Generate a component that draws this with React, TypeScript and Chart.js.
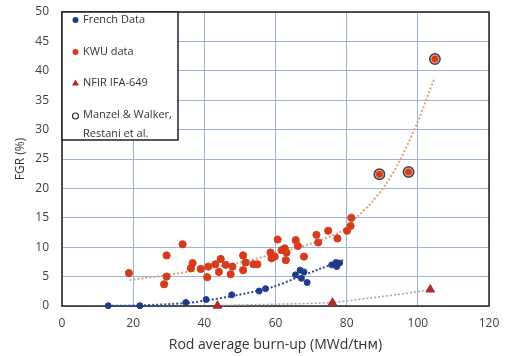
import React, { useEffect, useRef } from "react";
import { Chart, registerables } from "chart.js";

Chart.register(...registerables);

// ---- axis ticks ----
const xTickValues = [0, 20, 40, 60, 80, 100, 120];
const yTickValues = [0, 5, 10, 15, 20, 25, 30, 35, 40, 45, 50];

// ---- French data ----
const frenchX = [13, 21.9, 34.8, 40.5, 47.7, 55.4, 57.2, 65.6, 66.9, 68.0, 67.3, 68.9, 75.8, 77.0, 78.0, 77.2];
const frenchY = [0.05, 0.05, 0.6, 1.1, 1.9, 2.55, 2.95, 5.3, 6.1, 5.8, 4.7, 4.0, 7.0, 7.4, 7.3, 6.7];

// ---- KWU data ----
const kwuX = [18.8, 29.4, 33.9, 29.4, 28.7, 36.7, 36.2, 39.0, 41.1, 40.8, 43.1, 44.6, 44.1, 46.0, 47.4, 47.9, 50.9, 50.9, 51.6, 53.8, 54.9, 58.6, 58.9, 59.8, 60.6, 61.7, 62.6, 63.1, 62.9, 65.7, 66.3, 68.0, 71.5, 72.0, 74.8, 77.4, 80.1, 81.1, 81.3];
const kwuY = [5.6, 8.6, 10.5, 5.0, 3.7, 7.3, 6.4, 6.3, 6.7, 4.9, 7.1, 8.0, 5.8, 7.0, 5.4, 6.7, 8.6, 6.1, 7.4, 7.1, 7.1, 9.1, 8.1, 8.4, 11.3, 9.5, 9.8, 9.1, 7.8, 11.2, 10.2, 8.4, 12.1, 10.8, 12.8, 11.5, 12.8, 13.6, 15.0];

// ---- NFIR IFA-649 ----
const nfirX = [43.7, 76.0, 103.5];
const nfirY = [0.05, 0.55, 2.8];

// ---- Manzel & Walker, Restani et al. ----
const manzelX = [89.2, 97.4, 104.8];
const manzelY = [22.4, 22.8, 42.0];

// ---- trend lines ----
const frenchTrendX = [13, 22, 35, 40, 48, 59, 66, 72, 79];
const frenchTrendY = [0.05, 0.1, 0.5, 0.9, 1.7, 3.2, 4.8, 6.2, 7.8];
const kwuTrendX = [19, 30, 40, 50, 60, 70, 76, 79, 83, 87, 91, 95, 100, 104.7];
const kwuTrendY = [4.4, 5.3, 6.3, 7.4, 8.9, 10.6, 12.0, 12.9, 15.2, 17.6, 20.7, 24.8, 31.4, 38.8];
const nfirTrendX = [44, 60, 76, 86, 95, 104];
const nfirTrendY = [0.1, 0.3, 0.6, 1.3, 2.0, 2.8];

const zip = (xs: number[], ys: number[]) => xs.map((x, i) => ({ x, y: ys[i] }));

const BLUE = "#1f3b8a";
const RED = "#d63c1c";
const TRI = "#b32a2a";
const FONT = "'Open Sans', 'DejaVu Sans', sans-serif";

const legendPlugin = {
  id: "boxLegend",
  afterDraw(chart: any) {
    const { ctx, chartArea } = chart;
    const l = chartArea.left;
    const t = chartArea.top;
    ctx.save();
    ctx.fillStyle = "#ffffff";
    ctx.fillRect(l, t, 116, 128);
    ctx.strokeStyle = "#222";
    ctx.lineWidth = 1.5;
    ctx.strokeRect(l, t, 116, 128);
    ctx.font = `11px ${FONT}`;
    ctx.textBaseline = "middle";
    const items = chart.data.datasets.filter((d: any) => d.legendKind);
    const rowY = [8, 40, 71, 103];
    items.forEach((d: any, i: number) => {
      const y = t + rowY[i];
      const mx = l + 13.5;
      ctx.beginPath();
      if (d.legendKind === "dot") {
        ctx.fillStyle = d.backgroundColor;
        ctx.arc(mx, y, 3, 0, Math.PI * 2);
        ctx.fill();
      } else if (d.legendKind === "tri") {
        ctx.fillStyle = d.backgroundColor;
        ctx.moveTo(mx, y - 3.5);
        ctx.lineTo(mx + 3.5, y + 2.5);
        ctx.lineTo(mx - 3.5, y + 2.5);
        ctx.closePath();
        ctx.fill();
      } else {
        ctx.strokeStyle = "#333";
        ctx.lineWidth = 1.2;
        ctx.arc(mx, y + 1, 3, 0, Math.PI * 2);
        ctx.stroke();
      }
      ctx.fillStyle = "#333";
      const lines = Array.isArray(d.label) ? d.label : [d.label];
      lines.forEach((s: string, k: number) => {
        ctx.fillText(s, l + 21, y + k * 19);
      });
    });
    ctx.restore();
  },
};

const framePlugin = {
  id: "frame",
  beforeDatasetsDraw(chart: any) {
    const { ctx, chartArea } = chart;
    ctx.save();
    ctx.strokeStyle = "#222";
    ctx.lineWidth = 1.5;
    ctx.strokeRect(chartArea.left, chartArea.top, chartArea.right - chartArea.left, chartArea.bottom - chartArea.top);
    ctx.restore();
  },
};

export default function App() {
  const ref = useRef<HTMLCanvasElement>(null);

  useEffect(() => {
    const trend = (xs: number[], ys: number[], color: string, width: number) => ({
      type: "line" as const,
      data: zip(xs, ys),
      showLine: true,
      borderColor: color,
      borderWidth: width,
      borderDash: [2, 2],
      pointRadius: 0,
      tension: 0.3,
      fill: false,
      clip: false as any,
      order: 10,
    });

    const chart = new Chart(ref.current!, {
      type: "scatter",
      data: {
        datasets: [
          trend(frenchTrendX, frenchTrendY, "#2b4c9c", 2),
          trend(kwuTrendX, kwuTrendY, "#dda27a", 2),
          trend(nfirTrendX, nfirTrendY, "#a0a0a8", 1.5),
          {
            label: "French Data",
            data: zip(frenchX, frenchY),
            backgroundColor: BLUE,
            borderColor: BLUE,
            pointRadius: 3,
            clip: false as any,
            order: 2,
            legendKind: "dot",
          } as any,
          {
            label: "KWU data",
            data: zip(kwuX, kwuY),
            backgroundColor: RED,
            borderColor: RED,
            pointRadius: 3.6,
            clip: false as any,
            order: 2,
            legendKind: "dot",
          } as any,
          {
            label: "NFIR IFA-649",
            data: zip(nfirX, nfirY),
            backgroundColor: TRI,
            borderColor: TRI,
            pointStyle: "triangle",
            pointRadius: 5,
            clip: false as any,
            order: 2,
            legendKind: "tri",
          } as any,
          {
            label: ["Manzel & Walker,", "Restani et al."],
            data: zip(manzelX, manzelY),
            backgroundColor: "#dcaaa2",
            borderColor: "#444",
            borderWidth: 1.5,
            pointRadius: 5.2,
            clip: false as any,
            order: 1,
            legendKind: "ring",
          } as any,
          {
            label: "high burn-up KWU",
            data: zip(manzelX, manzelY),
            backgroundColor: RED,
            borderColor: RED,
            pointRadius: 3,
            clip: false as any,
            order: 0,
          } as any,
        ],
      },
      options: {
        responsive: false,
        animation: false,
        devicePixelRatio: 1,
        layout: { padding: { top: 12, right: 16, left: 0, bottom: 0 } },
        plugins: {
          legend: { display: false },
          tooltip: { enabled: false },
        },
        scales: {
          x: {
            type: "linear",
            min: 0,
            max: 120,
            afterFit: (s: any) => {
              s.height = 50;
              s.paddingLeft = 0;
              s.paddingRight = 0;
            },
            afterBuildTicks: (s: any) => {
              s.ticks = xTickValues.map((v) => ({ value: v }));
            },
            grid: { color: "#9bb2d6", lineWidth: 1, drawTicks: false },
            border: { display: false },
            ticks: { padding: 10, color: "#404040", font: { family: FONT, size: 12 } },
            title: {
              display: true,
              text: "Rod average burn-up (MWd/tʜᴍ)",
              color: "#333",
              font: { family: FONT, size: 14 },
              padding: { top: 0, bottom: 3 },
            },
          },
          y: {
            type: "linear",
            min: 0,
            max: 50,
            afterFit: (s: any) => {
              s.width = 62;
              s.paddingTop = 0;
              s.paddingBottom = 0;
            },
            afterBuildTicks: (s: any) => {
              s.ticks = yTickValues.map((v) => ({ value: v }));
            },
            grid: { color: "#9bb2d6", lineWidth: 1, drawTicks: false },
            border: { display: false },
            ticks: { padding: 13, color: "#404040", font: { family: FONT, size: 12 } },
            title: {
              display: true,
              text: "FGR (%)",
              color: "#333",
              font: { family: FONT, size: 12 },
              padding: { top: 13, bottom: 0 },
            },
          },
        },
      } as any,
      plugins: [framePlugin, legendPlugin],
    });
    return () => chart.destroy();
  }, []);

  return (
    <div style={{ position: "fixed", left: 0, top: 0, width: 505, height: 356, background: "#fff" }}>
      <canvas ref={ref} width={505} height={356} style={{ display: "block" }} />
    </div>
  );
}
